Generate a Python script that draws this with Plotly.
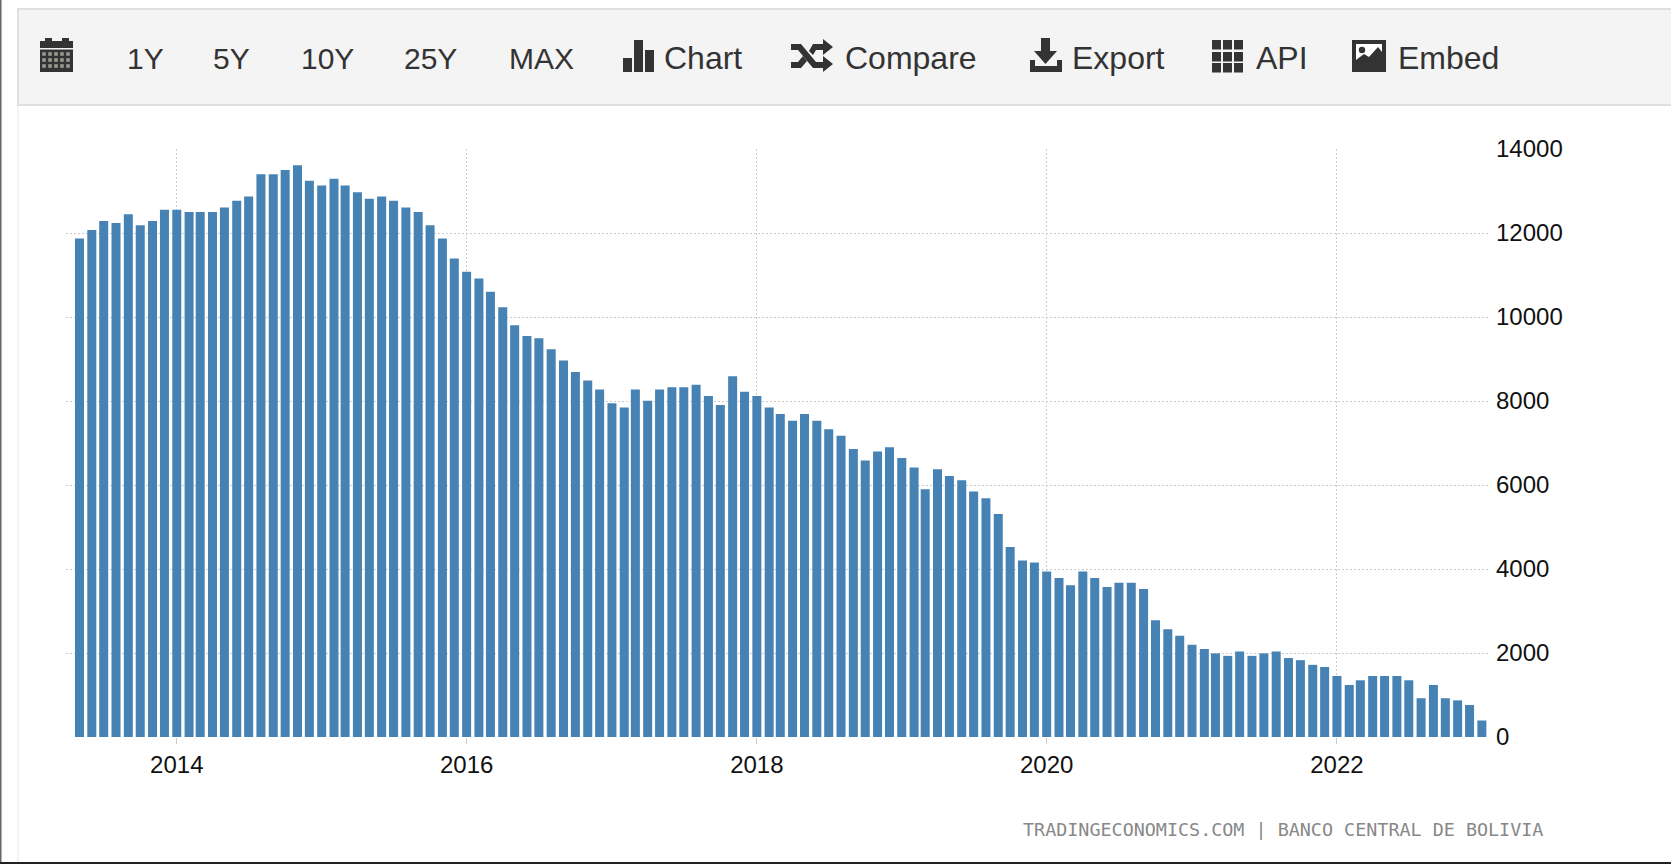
import pandas as pd
import plotly.graph_objects as go

W, H = 1671, 864

values = [
    11867, 12072, 12286, 12238, 12444, 12183, 12286, 12554,
    12554, 12499, 12499, 12499, 12610, 12768, 12870, 13400, 13400, 13502, 13613, 13242,
    13131, 13289, 13131, 12973, 12815, 12870, 12768, 12610, 12499, 12183, 11867, 11393,
    11077, 10919, 10603, 10231, 9803, 9547, 9496, 9231, 8966, 8692, 8487, 8273,
    7949, 7846, 8273, 8008, 8273, 8325, 8325, 8385, 8120, 7906, 8590, 8222,
    8120, 7846, 7692, 7530, 7692, 7530, 7325, 7171, 6855, 6581, 6795, 6897,
    6641, 6419, 5897, 6376, 6214, 6111, 5846, 5684, 5308, 4521, 4205, 4154,
    3940, 3786, 3615, 3940, 3786, 3573, 3675, 3675, 3521, 2778, 2564, 2410,
    2197, 2094, 1991, 1932, 2034, 1932, 1991, 2034, 1880, 1829, 1718, 1667,
    1453, 1239, 1350, 1453, 1453, 1453, 1350, 923, 1239, 923, 872, 761,
    393,
]
dates = pd.date_range("2013-05-01", periods=len(values), freq="MS")

x_tick_vals = ["2014-01-01", "2016-01-01", "2018-01-01", "2020-01-01", "2022-01-01"]
x_tick_text = ["2014", "2016", "2018", "2020", "2022"]
y_tick_vals = [0, 2000, 4000, 6000, 8000, 10000, 12000, 14000]
y_tick_text = ["0", "2000", "4000", "6000", "8000", "10000", "12000", "14000"]
range_buttons = [("1Y", 126), ("5Y", 212), ("10Y", 300), ("25Y", 403), ("MAX", 508)]
menu_buttons = [("Chart", 663), ("Compare", 844), ("Export", 1071), ("API", 1255), ("Embed", 1397)]
credit = "TRADINGECONOMICS.COM | BANCO CENTRAL DE BOLIVIA"

ICON = "#333333"
BAR = "#4682B4"
GRID = "#cccccc"
PANEL = "#f4f4f4"


def px(x):
    return x / W


def py(y):
    return 1 - y / H


def rect(x0, y0, x1, y1, fill, line=None, lw=0):
    return dict(type="rect", xref="paper", yref="paper", x0=px(x0), x1=px(x1), y0=py(y0), y1=py(y1),
                fillcolor=fill, line=dict(color=line or fill, width=lw), layer="above")


def poly(points, fill):
    d = "M " + " L ".join(f"{px(a):.5f},{py(b):.5f}" for a, b in points) + " Z"
    return dict(type="path", xref="paper", yref="paper", path=d, fillcolor=fill,
                line=dict(width=0), layer="above")


def circle(cx, cy, r, fill):
    return dict(type="circle", xref="paper", yref="paper", x0=px(cx - r), x1=px(cx + r),
                y0=py(cy + r), y1=py(cy - r), fillcolor=fill, line=dict(width=0), layer="above")


shapes = [
    # page frame
    rect(0, 0, 1.5, H, "#666666"),
    rect(0, 862, W, H, "#222222"),
    rect(17, 105, 19, 862, "#f4f4f4"),
    # toolbar
    rect(18, 9, W + 5, 105, PANEL, "#e0e0e0", 2),
    # calendar icon
    rect(40, 41, 73, 48, ICON),
    rect(45, 38, 52, 44, ICON),
    rect(62, 38, 69, 44, ICON),
    rect(40, 49.5, 73, 72, ICON),
    # chart icon
    rect(623, 58, 632, 72, ICON),
    rect(634, 40, 643, 72, ICON),
    rect(645, 50, 654, 72, ICON),
    # shuffle icon
    poly([(791, 44), (801, 44), (816, 62), (823, 62), (823, 56), (833, 64), (823, 72), (823, 68),
          (813, 68), (798, 50), (791, 50)], ICON),
    poly([(791, 62), (798, 62), (803, 56), (807, 61), (801, 68), (791, 68)], ICON),
    poly([(809, 51), (813, 44), (823, 44), (823, 39), (833, 47), (823, 55), (823, 50), (816, 50), (813, 55)], ICON),
    # export icon
    poly([(1041, 38), (1050, 38), (1050, 51), (1057, 51), (1045.5, 64), (1034, 51), (1041, 51)], ICON),
    poly([(1030, 60), (1035, 60), (1035, 66), (1057, 66), (1057, 60), (1062, 60), (1062, 72), (1030, 72)], ICON),
    # embed icon
    rect(1352, 40, 1386, 72, ICON),
    rect(1356, 44, 1382, 62, "#ffffff"),
    poly([(1356, 66), (1356, 60), (1364, 54), (1369, 57), (1378, 47), (1382, 52), (1382, 66)], ICON),
    circle(1362, 50, 3.2, ICON),
]
# calendar day cells
for cy in (54, 60, 66):
    for cx in (44, 50, 56, 62, 68):
        shapes.append(rect(cx - 1.8, cy - 1.8, cx + 1.8, cy + 1.8, "#9a9a8c"))
# API grid icon
for cy0 in (40, 52, 63):
    for cx0 in (1212, 1223, 1234):
        shapes.append(rect(cx0, cy0, cx0 + 9, cy0 + 9.5, ICON))

annotations = []
for text, x in range_buttons:
    annotations.append(dict(text=text, x=px(x), y=py(58), xref="paper", yref="paper", xanchor="left",
                            yanchor="middle", showarrow=False, borderpad=0,
                            font=dict(family="Liberation Sans", size=30, color=ICON)))
for text, x in menu_buttons:
    annotations.append(dict(text=text, x=px(x), y=py(58), xref="paper", yref="paper", xanchor="left",
                            yanchor="middle", showarrow=False, borderpad=0,
                            font=dict(family="Liberation Sans", size=32, color=ICON)))
annotations.append(dict(text=credit, x=px(1022), y=py(829), xref="paper", yref="paper", xanchor="left",
                        yanchor="middle", showarrow=False, borderpad=0,
                        font=dict(family="DejaVu Sans Mono", size=18.4, color="#888888")))

fig = go.Figure(go.Bar(x=dates, y=values, width=22.7 * 86400000, marker=dict(color=BAR, line=dict(width=0))))
fig.update_layout(
    width=W, height=H, margin=dict(l=0, r=0, t=0, b=0), autosize=False,
    paper_bgcolor="#ffffff", plot_bgcolor="#ffffff", showlegend=False,
    shapes=shapes, annotations=annotations,
    xaxis=dict(domain=[px(66), px(1489)], type="date", range=["2013-03-28", "2023-01-19"],
               automargin=False,
               tickmode="array", tickvals=x_tick_vals, ticktext=x_tick_text,
               ticks="outside", ticklen=6, tickcolor=GRID, tickwidth=1,
               showgrid=True, gridcolor=GRID, griddash="2px,2px", gridwidth=1,
               showline=False, zeroline=False,
               tickfont=dict(family="Liberation Sans", size=24, color="#111111")),
    yaxis=dict(domain=[py(737), py(149)], range=[0, 14000], side="right",
               automargin=False,
               tickmode="array", tickvals=y_tick_vals, ticktext=y_tick_text,
               ticks="", showgrid=True, gridcolor=GRID, griddash="2px,2px", gridwidth=1,
               showline=False, zeroline=False, ticklabelstandoff=6,
               tickfont=dict(family="Liberation Sans", size=24, color="#111111")),
)

fig.write_html("out.html", config=dict(displayModeBar=False),
               post_script="document.body.style.margin='0';document.body.style.overflow='hidden';")
